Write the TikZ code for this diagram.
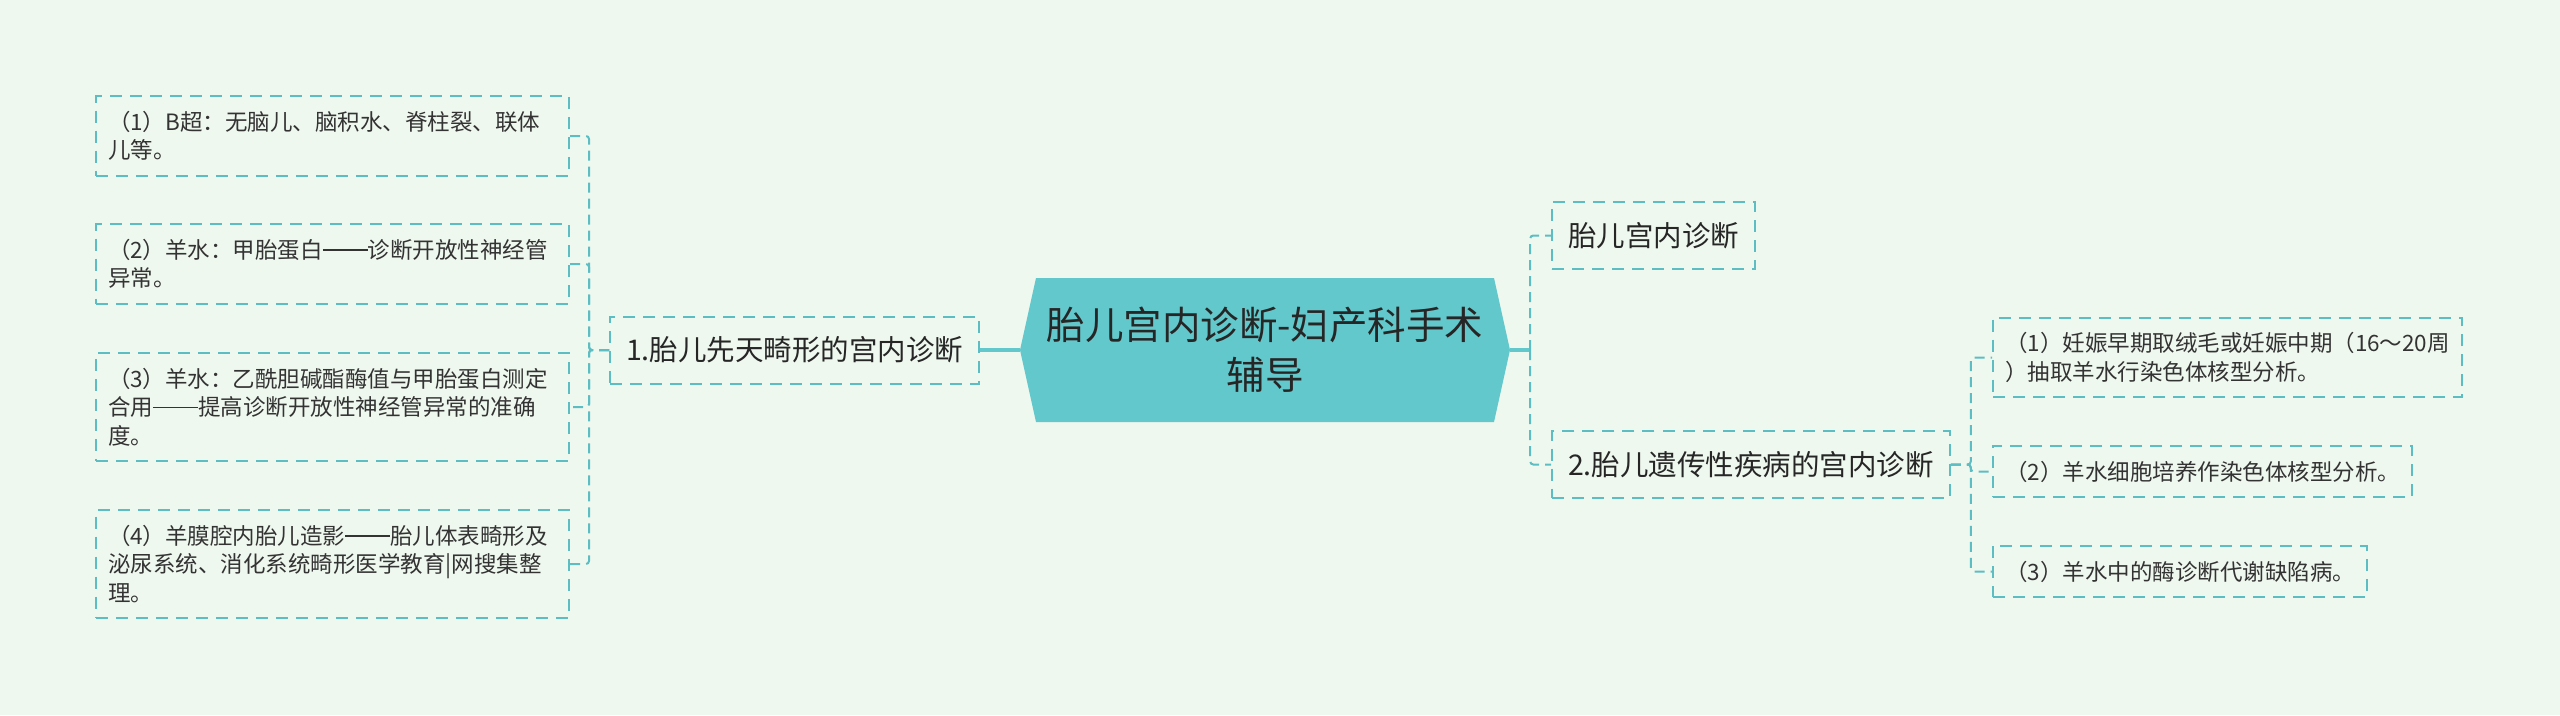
\documentclass[tikz,border=0pt]{standalone}
\usepackage{fontspec}
\setmainfont{Noto Sans CJK SC}

\definecolor{bgmint}{HTML}{EFF8EF}
\definecolor{rootteal}{HTML}{63C8CC}
\definecolor{linkteal}{HTML}{5CBDC2}
\definecolor{inkgray}{HTML}{333333}

% two-em dash as the reference sets it
\newcommand{\longdash}{\rule[0.34em]{2em}{0.06em}}

\begin{document}
\begin{tikzpicture}[
    x=1pt, y=-1pt,
    root/.style={
        fill=bgmint,
        minimum width=490pt,
        minimum height=144pt,
        inner sep=0pt,
        align=center,
        text=black!85,
        font=\fontsize{38.5}{50}\selectfont,
        path picture={
            \fill[rootteal] ([xshift=16pt]path picture bounding box.north west)
                -- ([xshift=-16pt]path picture bounding box.north east)
                -- (path picture bounding box.east)
                -- ([xshift=-16pt]path picture bounding box.south east)
                -- ([xshift=16pt]path picture bounding box.south west)
                -- (path picture bounding box.west) -- cycle;
        }
    },
    topic/.style={
        draw=linkteal,
        line width=2pt,
        dash pattern=on 12pt off 8pt,
        inner xsep=16pt,
        minimum height=67pt,
        text=black!85,
        font=\fontsize{28.5}{34}\selectfont
    },
    leaf/.style={
        draw=linkteal,
        line width=2pt,
        dash pattern=on 12pt off 8pt,
        inner xsep=12pt,
        inner ysep=15pt,
        align=left,
        text=inkgray,
        font=\fontsize{22.5}{28.5}\selectfont
    },
    trunk/.style={draw=rootteal, line width=4pt},
    link/.style={draw=linkteal, line width=2pt, dash pattern=on 10pt off 6pt, rounded corners=3pt}
]

\useasboundingbox (0,0) rectangle (2560,715);
\fill[bgmint] (0,0) rectangle (2560,715);

\node[root] (root) at (1265,350) {胎儿宫内诊断-妇产科手术\\辅导};
\coordinate (rfork) at ([xshift=20pt]root.east);

% left branch
\node[topic, anchor=west] (congenital) at (609,350) {1.胎儿先天畸形的宫内诊断};

\node[leaf, anchor=west, text width=449pt] (bscan) at (95,136)
    {（1）B超：无脑儿、脑积水、脊柱裂、联体\\儿等。};
\node[leaf, anchor=west, text width=449pt] (afpcheck) at (95,264)
    {（2）羊水：甲胎蛋白\longdash 诊断开放性神经管\\异常。};
\node[leaf, anchor=west, text width=449pt] (achecheck) at (95,407)
    {（3）羊水：乙酰胆碱酯酶值与甲胎蛋白测定\\合用\longdash 提高诊断开放性神经管异常的准确\\度。};
\node[leaf, anchor=west, text width=449pt] (amniogram) at (95,564)
    {（4）羊膜腔内胎儿造影\longdash 胎儿体表畸形及\\泌尿系统、消化系统畸形医学教育|网搜集整\\理。};

% right branch
\node[topic, anchor=west] (overview) at (1551,235.5) {胎儿宫内诊断};
\node[topic, anchor=west] (genetic) at (1551,464.5) {2.胎儿遗传性疾病的宫内诊断};

\node[leaf, anchor=west] (chorion) at (1992,357.5)
    {（1）妊娠早期取绒毛或妊娠中期（16～20周\\）抽取羊水行染色体核型分析。};
\node[leaf, anchor=west] (culture) at (1992,471.5)
    {（2）羊水细胞培养作染色体核型分析。};
\node[leaf, anchor=west] (enzyme) at (1992,571.5)
    {（3）羊水中的酶诊断代谢缺陷病。};

\draw[trunk] (root.west) -- (congenital.east);
\draw[trunk] (root.east) -- (rfork);

\draw[link] (congenital.west) -- ++(-20,0) |- (bscan.east);
\draw[link] (congenital.west) -- ++(-20,0) |- (afpcheck.east);
\draw[link] (congenital.west) -- ++(-20,0) |- (achecheck.east);
\draw[link] (congenital.west) -- ++(-20,0) |- (amniogram.east);

\draw[link] (rfork) |- (overview.west);
\draw[link] (rfork) |- (genetic.west);

\draw[link] (genetic.east) -- ++(20,0) |- (chorion.west);
\draw[link] (genetic.east) -- ++(20,0) |- (culture.west);
\draw[link] (genetic.east) -- ++(20,0) |- (enzyme.west);

\end{tikzpicture}
\end{document}
